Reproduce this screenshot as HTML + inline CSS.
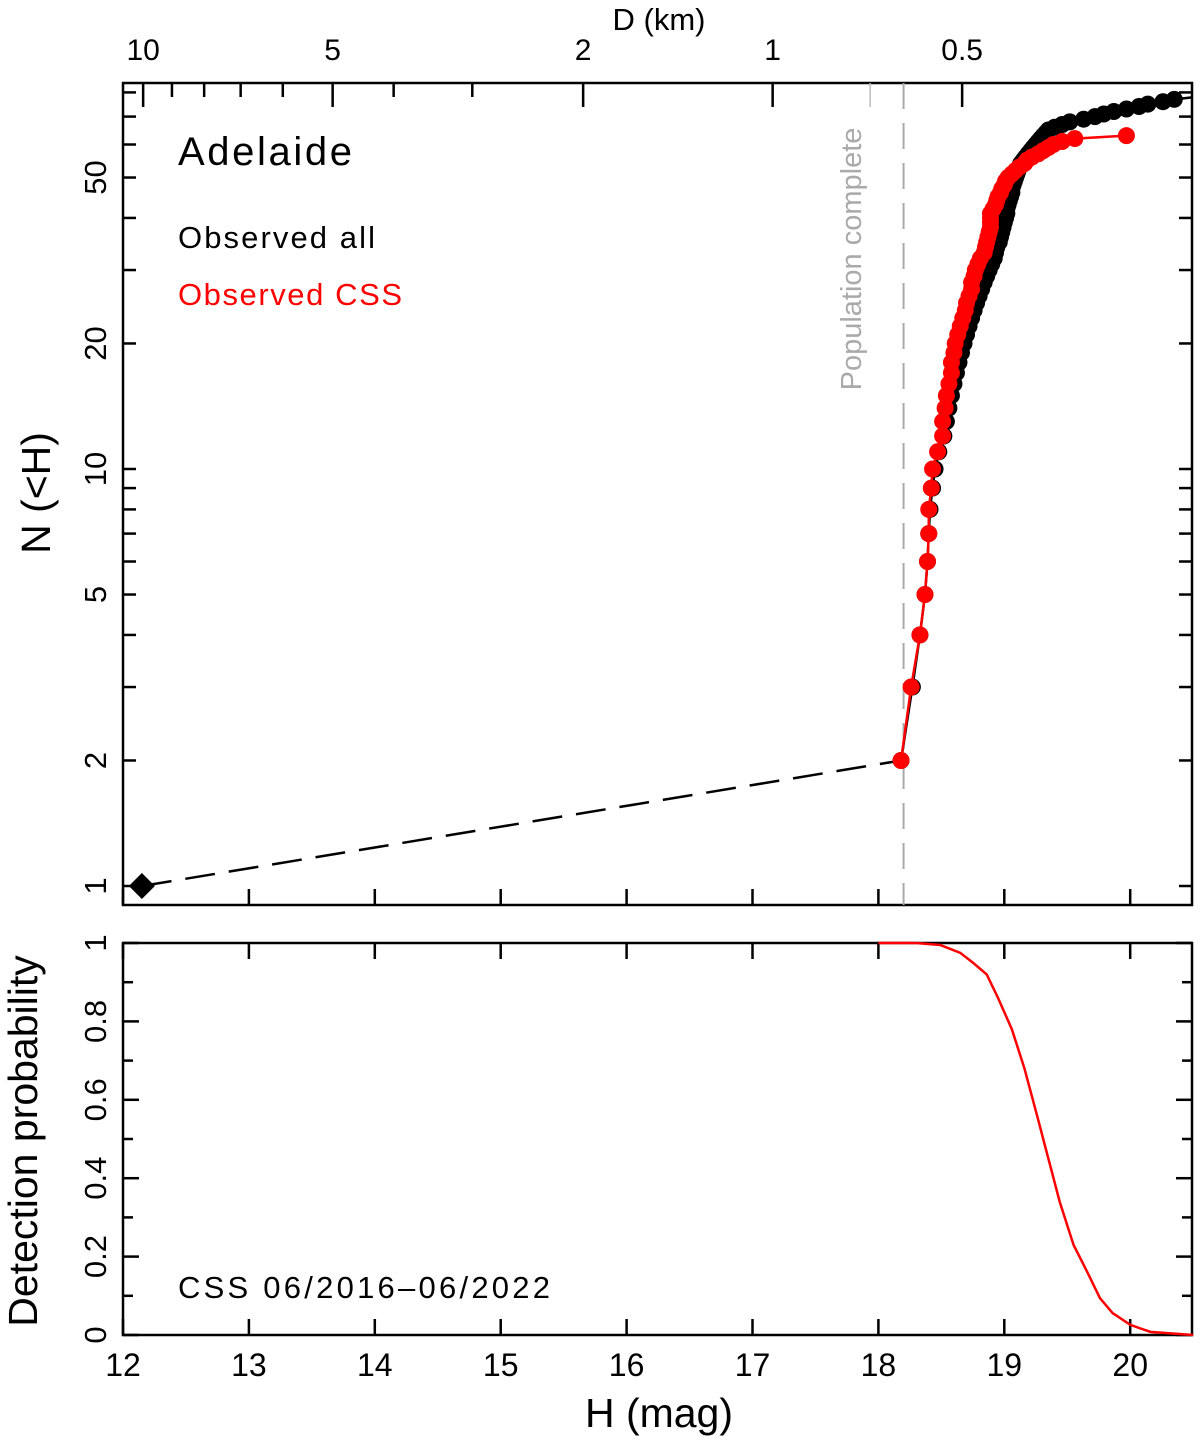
<!DOCTYPE html>
<html><head><meta charset="utf-8"><style>
html,body{margin:0;padding:0;background:#fff;}
svg{display:block;font-family:"Liberation Sans",sans-serif;}
</style></head><body>
<svg id="chart" width="1200" height="1440" viewBox="0 0 1200 1440" xmlns="http://www.w3.org/2000/svg">
<g id="topPanel"></g>
<g id="botPanel"></g>
</svg>
<script>
// Observed all: H for N = 2,3,...
const allH = [18.18,18.27,18.33,18.37,18.39,18.40,18.41,18.43,18.45,18.48,18.52,18.54,18.56,18.58,18.60,18.62,18.64,18.66,18.68,18.70,18.72,18.74,18.76,18.78,18.80,18.82,18.84,18.86,18.88,18.90,18.92,18.93,18.94,18.96,18.97,18.98,18.99,19.00,19.01,19.02,19.02,19.03,19.04,19.05,19.06,19.06,19.07,19.08,19.09,19.10,19.11,19.12,19.13,19.15,19.17,19.19,19.21,19.23,19.25,19.27,19.29,19.31,19.33,19.35,19.40,19.46,19.52,19.63,19.72,19.79,19.87,19.97,20.07,20.14,20.26,20.35];
// Observed CSS: H for N = 2,3,...
const cssH = [18.18,18.26,18.33,18.37,18.39,18.40,18.40,18.42,18.43,18.47,18.51,18.51,18.53,18.54,18.56,18.58,18.58,18.60,18.61,18.63,18.65,18.67,18.69,18.70,18.72,18.74,18.74,18.76,18.77,18.79,18.81,18.84,18.85,18.86,18.87,18.88,18.89,18.89,18.89,18.89,18.91,18.93,18.94,18.95,18.97,18.98,19.00,19.01,19.03,19.06,19.09,19.12,19.16,19.18,19.22,19.27,19.31,19.35,19.39,19.46,19.56,19.97];
const firstH = 12.15; // N=1 diamond
const completeH = 18.2;
const probH = [18.0,18.3,18.49,18.65,18.75,18.86,18.95,19.06,19.16,19.26,19.35,19.44,19.55,19.66,19.76,19.86,20.00,20.16,20.50];
const probP = [1,1,0.995,0.975,0.95,0.92,0.86,0.78,0.68,0.56,0.45,0.34,0.23,0.16,0.094,0.056,0.026,0.008,0];
const hTicks = [12,13,14,15,16,17,18,19,20];
const nLabels = [1,2,5,10,20,50];
const nTicks = [1,2,3,4,5,6,7,8,9,10,20,30,40,50,60,70,80];
const dMajor = [10,5,2,1,0.5];
const dMinor = [9,8,7,6,4,3];
const pTicks = [0,0.1,0.2,0.3,0.4,0.5,0.6,0.7,0.8,0.9,1];
const pLabels = ["0","0.2","0.4","0.6","0.8","1"];

const NS="http://www.w3.org/2000/svg";
const L=123,R=1192,T1=83,B1=905,T2=943,B2=1335;
const X=h=>L+(h-12)*125.9;
const Y=n=>886-417*Math.log10(n);
const YP=p=>B2-(B2-T2)*p;
const hOfD=d=>17.16+5*Math.log10(1/d);
function el(tag,attrs,parent,text){const e=document.createElementNS(NS,tag);for(const k in attrs)e.setAttribute(k,attrs[k]);if(text!==undefined)e.textContent=text;parent.appendChild(e);return e;}
const gTop=document.getElementById('topPanel'),gBot=document.getElementById('botPanel');
const S={stroke:'#000','stroke-width':2.5,fill:'none'};

let f=el('rect',Object.assign({x:L,y:T1,width:R-L,height:B1-T1},S),gTop);


f=el('rect',Object.assign({x:L,y:T2,width:R-L,height:B2-T2},S),gBot);



hTicks.forEach(h=>{const x=X(h);
 el('line',{x1:x,x2:x,y1:B1,y2:B1-16,stroke:'#000','stroke-width':2.5},gTop);
 el('line',{x1:x,x2:x,y1:T2,y2:T2+16,stroke:'#000','stroke-width':2.5},gBot);
 el('line',{x1:x,x2:x,y1:B2,y2:B2-16,stroke:'#000','stroke-width':2.5},gBot);
 const lab=el('text',{x:x,y:1376,'font-size':32,'text-anchor':'middle'},gBot,String(h));
 
 
});
dMajor.forEach(d=>{const x=X(hOfD(d));
 el('line',{x1:x,x2:x,y1:T1,y2:T1+24,stroke:'#000','stroke-width':2.5},gTop);
 const lab=el('text',{x:x,y:60,'font-size':30,'text-anchor':'middle'},gTop,String(d));
 
 
});
dMinor.forEach(d=>{const x=X(hOfD(d));el('line',{x1:x,x2:x,y1:T1,y2:T1+14,stroke:'#000','stroke-width':2.5},gTop);});
el('line',{x1:X(hOfD(0.7)),x2:X(hOfD(0.7)),y1:T1,y2:T1+24,stroke:'#bbb','stroke-width':1.5},gTop);
let tx=el('text',{x:659,y:30,'font-size':31,'text-anchor':'middle'},gTop,'D (km)');



nTicks.forEach(n=>{const y=Y(n);if(y<T1)return;
 el('line',{x1:L,x2:L+13,y1:y,y2:y,stroke:'#000','stroke-width':2.5},gTop);
 el('line',{x1:R,x2:R-13,y1:y,y2:y,stroke:'#000','stroke-width':2.5},gTop);
});
nLabels.forEach(n=>{const y=Y(n);
 const lab=el('text',{x:0,y:0,'font-size':31,'text-anchor':'middle',transform:`translate(106,${y}) rotate(-90)`},gTop,String(n));
 
 
});
tx=el('text',{x:0,y:0,'font-size':41,'text-anchor':'middle',transform:'translate(50,493) rotate(-90)'},gTop,'N (<H)');



pTicks.forEach((p,i)=>{const y=YP(p);const len=i%2?10:16;
 el('line',{x1:L,x2:L+len,y1:y,y2:y,stroke:'#000','stroke-width':2.5},gBot);
 el('line',{x1:R,x2:R-len,y1:y,y2:y,stroke:'#000','stroke-width':2.5},gBot);
});
pLabels.forEach(s=>{const y=YP(parseFloat(s));
 const lab=el('text',{x:0,y:0,'font-size':31,'text-anchor':'middle',transform:`translate(106,${y}) rotate(-90)`},gBot,s);
 
 
});
tx=el('text',{x:0,y:0,'font-size':41,'text-anchor':'middle',transform:'translate(37,1141) rotate(-90)'},gBot,'Detection probability');


tx=el('text',{x:659,y:1427,'font-size':41,'text-anchor':'middle'},gBot,'H (mag)');



let ln=el('line',{x1:X(completeH),x2:X(completeH),y1:T1,y2:B1,stroke:'#aaa','stroke-width':2,'stroke-dasharray':'26,14'},gTop);


tx=el('text',{x:0,y:0,'font-size':29,fill:'#aaa','text-anchor':'middle',transform:'translate(861,259) rotate(-90)'},gTop,'Population complete');



tx=el('text',{x:178,y:165,'font-size':40,textLength:174},gTop,'Adelaide');


tx=el('text',{x:178,y:248,'font-size':31,textLength:197},gTop,'Observed all');


tx=el('text',{x:178,y:305,'font-size':31,fill:'#f00',textLength:224},gTop,'Observed CSS');


tx=el('text',{x:178,y:1298,'font-size':31,textLength:372},gBot,'CSS 06/2016–06/2022');



ln=el('line',{x1:X(firstH),y1:Y(1),x2:X(allH[0]),y2:Y(2),stroke:'#000','stroke-width':2.5,'stroke-dasharray':'30,14'},gTop);


const dx=X(firstH),dy=Y(1);
let dm=el('polygon',{points:`${dx-13},${dy} ${dx},${dy-13} ${dx+13},${dy} ${dx},${dy+13}`,fill:'#000'},gTop);



function series(arr,color,name){
 const pts=arr.map((h,i)=>[X(h),Y(i+2)]);
 if(name==='all') pts.push([R,pts[pts.length-1][1]-2]);
 const pl=el('polyline',{points:pts.map(p=>p.join(',')).join(' '),fill:'none',stroke:color,'stroke-width':2.5},gTop);
 
 
 arr.forEach((h,i)=>{
  const c=el('circle',{cx:X(h),cy:Y(i+2),r:8.5,fill:color},gTop);
  
  
 });
}
series(allH,'#000','all');
series(cssH,'#f00','css');

const pc=el('polyline',{points:probH.map((h,i)=>X(h)+','+YP(probP[i])).join(' '),fill:'none',stroke:'#f00','stroke-width':2.5},gBot);


</script>
</body></html>
